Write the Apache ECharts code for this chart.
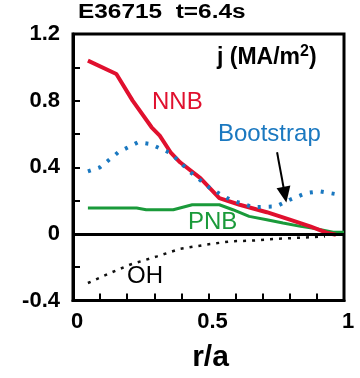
<!DOCTYPE html>
<html>
<head>
<meta charset="utf-8">
<script src="https://cdn.jsdelivr.net/npm/echarts@6/dist/echarts.min.js"></script>
<style>
html, body { margin: 0; padding: 0; background: #fff; }
#chart { width: 360px; height: 378px; }
</style>
</head>
<body>
<div id="chart"></div>
<script>
// values, x = r/a, y = j (MA/m2)
const nnbX = [0.055, 0.16, 0.22, 0.29, 0.32, 0.36, 0.395, 0.47, 0.54, 0.615, 0.715, 0.80, 0.875, 0.94, 0.97]
const nnbY = [1.04, 0.96, 0.80, 0.64, 0.59, 0.49, 0.43, 0.335, 0.215, 0.175, 0.13, 0.085, 0.045, 0.005, -0.005]

const pnbX = [0.055, 0.235, 0.27, 0.37, 0.44, 0.54, 0.59, 0.65, 0.715, 0.775, 0.84, 0.90, 0.96, 1.0]
const pnbY = [0.155, 0.155, 0.145, 0.145, 0.175, 0.175, 0.145, 0.105, 0.085, 0.065, 0.045, 0.03, 0.01, 0.01]

const bootX = [0.055, 0.10, 0.167, 0.24, 0.284, 0.36, 0.43, 0.505, 0.58, 0.665, 0.75, 0.80, 0.86, 0.91, 0.985]
const bootY = [0.375, 0.40, 0.49, 0.55, 0.54, 0.485, 0.375, 0.275, 0.205, 0.16, 0.165, 0.205, 0.245, 0.255, 0.235]

const ohX = [0.055, 0.137, 0.21, 0.31, 0.395, 0.49, 0.58, 0.665, 0.75, 0.875, 0.93]
const ohY = [-0.295, -0.235, -0.185, -0.135, -0.09, -0.065, -0.045, -0.04, -0.03, -0.02, -0.015]

const xLabels = [0, 0.5, 1]
const yLabels = [-0.4, 0, 0.4, 0.8, 1.2]

const font = 'Liberation Sans, Arial, sans-serif'

function pairs(xs, ys) {
	return xs.map((x, i) => [x, ys[i]])
}

function pick(list) {
	return v => {
		const hit = list.find(l => Math.abs(l - v) < 1e-6)
		return hit === undefined ? '' : String(hit)
	}
}

const myChart = echarts.init(document.getElementById('chart'))

myChart.setOption({
	animation: false,
	textStyle: { fontFamily: font },
	grid: {
		left: 73,
		right: 16,
		top: 34,
		bottom: 77.5,
		show: true,
		borderColor: '#000',
		borderWidth: 3
	},
	xAxis: {
		type: 'value',
		min: 0,
		max: 1,
		interval: 0.1,
		name: 'r/a',
		nameLocation: 'middle',
		nameGap: 42,
		nameTextStyle: { fontSize: 30, fontWeight: 'bold', color: '#000', fontFamily: font, padding: [0, 0, 0, 4] },
		axisLine: { onZero: false, lineStyle: { color: '#000', width: 3 } },
		axisTick: { inside: true, length: 7, lineStyle: { color: '#000', width: 2 } },
		splitLine: { show: false },
		axisLabel: {
			margin: 10,
			fontSize: 22,
			fontWeight: 'bold',
			color: '#000',
			padding: [0, 0, 0, 8],
			formatter: pick(xLabels)
		}
	},
	yAxis: {
		type: 'value',
		min: -0.4,
		max: 1.2,
		interval: 0.2,
		axisLine: { lineStyle: { color: '#000', width: 3 } },
		axisTick: { inside: true, length: 7, lineStyle: { color: '#000', width: 2 } },
		splitLine: { show: false },
		axisLabel: {
			margin: 13,
			fontSize: 22,
			fontWeight: 'bold',
			color: '#000',
			formatter: pick(yLabels)
		}
	},
	series: [
		{
			name: 'OH',
			type: 'line',
			data: pairs(ohX, ohY),
			symbol: 'none',
			lineStyle: { color: '#111', width: 2.5, type: [3, 6] },
			markLine: {
				silent: true,
				symbol: 'none',
				label: { show: false },
				lineStyle: { color: '#000', width: 3, type: 'solid' },
				data: [{ yAxis: 0 }]
			}
		},
		{
			name: 'PNB',
			type: 'line',
			data: pairs(pnbX, pnbY),
			symbol: 'none',
			lineStyle: { color: '#1a9a3a', width: 3 }
		},
		{
			name: 'NNB',
			type: 'line',
			data: pairs(nnbX, nnbY),
			symbol: 'none',
			lineStyle: { color: '#e0102e', width: 4 }
		},
		{
			name: 'Bootstrap',
			type: 'line',
			data: pairs(bootX, bootY),
			symbol: 'none',
			lineStyle: { color: '#1a78c0', width: 4, type: [3, 8] },
			markLine: {
				silent: true,
				symbol: ['none', 'triangle'],
				symbolSize: [14, 16],
				label: { show: false },
				lineStyle: { color: '#000', width: 2, type: 'solid' },
				data: [[{ coord: [0.753, 0.49] }, { coord: [0.782, 0.235] }]]
			}
		}
	],
	graphic: [
		{
			type: 'text',
			x: 78,
			y: 2,
			scaleX: 1.22,
			scaleY: 1,
			style: {
				text: 'E36715  t=6.4s',
				fontSize: 20,
				fontWeight: 'bold',
				fontFamily: font,
				fill: '#000',
				verticalAlign: 'top'
			}
		},
		{
			type: 'text',
			left: 217,
			top: 44,
			style: {
				text: 'j (MA/m{s|2})',
				rich: { s: { fontSize: 16, fontWeight: 'bold', fontFamily: font, padding: [0, 0, 12, 0], fill: '#000' } },
				fontSize: 23,
				fontWeight: 'bold',
				fontFamily: font,
				fill: '#000'
			}
		},
		{ type: 'text', left: 152, top: 90, style: { text: 'NNB', fontSize: 24, fontFamily: font, fill: '#e0102e' } },
		{ type: 'text', left: 218, top: 122, style: { text: 'Bootstrap', fontSize: 24, fontFamily: font, fill: '#1a78c0' } },
		{ type: 'text', left: 188, top: 210, style: { text: 'PNB', fontSize: 24, fontFamily: font, fill: '#1a9a3a' } },
		{ type: 'text', left: 127, top: 264, style: { text: 'OH', fontSize: 24, fontFamily: font, fill: '#000' } }
	]
})
</script>
</body>
</html>
